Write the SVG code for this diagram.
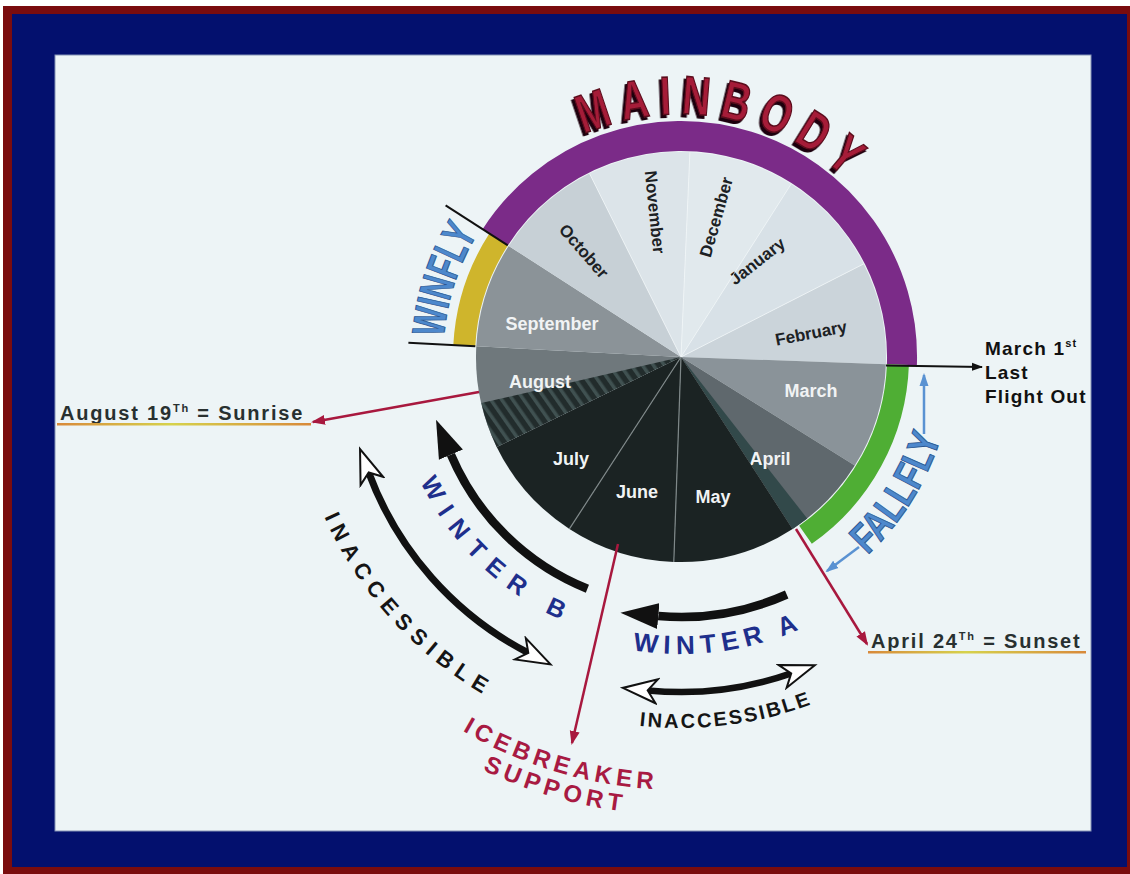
<svg xmlns="http://www.w3.org/2000/svg" width="1130" height="874" viewBox="0 0 1130 874">
<defs>
<style>
.lbl{font-family:"Liberation Sans",Arial,sans-serif;font-weight:bold;}
.mon{font-size:18px;text-anchor:middle;}
.rot{font-size:17px;text-anchor:middle;}
.mw{fill:#f1f3f4;}
.md{fill:#1c2124;}
.note{font-size:20px;fill:#283030;letter-spacing:1.8px;}
.flight{font-size:19px;fill:#111;letter-spacing:1.2px;}
.sup{font-size:11px;}
.blue{fill:#1e2f8c;}
.inac{fill:#151515;}
.red{fill:#a81a42;}
.fly{fill:#4d88cc;stroke:#2a5792;stroke-width:1;}
.sep{stroke:#f4f8fa;stroke-width:1;stroke-opacity:.7;}
.sepd{stroke:#7f8889;stroke-width:1.2;}
.rl{stroke:#a8183e;stroke-width:2.5;fill:none;}
.thick{stroke:#111;fill:none;}
</style>
<filter id="shadow" x="-10%" y="-20%" width="120%" height="140%"><feDropShadow dx="-2.5" dy="3" stdDeviation="0.4" flood-color="#1a0508" flood-opacity="1"/></filter>
<pattern id="hatch" patternUnits="userSpaceOnUse" width="9" height="9" patternTransform="rotate(-35)">
<rect width="9" height="9" fill="#222c2c"/><rect width="3.5" height="9" fill="#405151"/>
</pattern>
<linearGradient id="ul" x1="0" x2="1" y1="0" y2="0"><stop offset="0" stop-color="#d8893a"/><stop offset=".45" stop-color="#d6d24c"/><stop offset="1" stop-color="#d8893a"/></linearGradient>
<marker id="hFill" viewBox="0 -14 40 28" markerWidth="40" markerHeight="28" refX="0" refY="0" orient="auto-start-reverse" markerUnits="userSpaceOnUse"><path d="M0,-13 L38,0 L0,13 Z" fill="#111"/></marker>
<marker id="hOpen" viewBox="-2 -14 40 28" markerWidth="40" markerHeight="28" refX="9" refY="0" orient="auto-start-reverse" markerUnits="userSpaceOnUse"><path d="M0,-12 L34,0 L0,12 L9,0 Z" fill="#fff" stroke="#111" stroke-width="2"/></marker>
<marker id="aRed" viewBox="0 -6 14 12" markerWidth="14" markerHeight="12" refX="12" refY="0" orient="auto" markerUnits="userSpaceOnUse"><path d="M0,-5 L14,0 L0,5 Z" fill="#a8183e"/></marker>
<marker id="aBlk" viewBox="0 -5 11 10" markerWidth="11" markerHeight="10" refX="10" refY="0" orient="auto" markerUnits="userSpaceOnUse"><path d="M0,-4 L11,0 L0,4 Z" fill="#111"/></marker>
<marker id="aBlue" viewBox="0 -6 13 12" markerWidth="13" markerHeight="12" refX="11" refY="0" orient="auto" markerUnits="userSpaceOnUse"><path d="M0,-4.5 L13,0 L0,4.5 Z" fill="#5a92d2"/></marker>
<path id="pMain" d="M561.3,145.5 A243,243 0 0 1 868.5,202.4"/>
<path id="pWin" d="M443.1,365.3 A238,238 0 0 1 493.5,210.5"/>
<path id="pFall" d="M848.5,571.3 A272,272 0 0 0 947.0,413.5"/>
<path id="pWB" d="M404.1,439.6 A289,289 0 0 0 614.0,638.1"/>
<path id="pWA" d="M567.8,631.6 A297,297 0 0 0 862.2,592.3"/>
<path id="pInL" d="M299.0,440.3 A391,391 0 0 0 562.1,729.5"/>
<path id="pInR" d="M537.2,699.0 A371,371 0 0 0 905.3,652.5"/>
<path id="pIce" d="M365.9,654.0 A433,433 0 0 0 780.6,778.4"/>
<path id="pSup" d="M349.9,673.4 A458,458 0 0 0 789.5,802.0"/>
</defs>

<g id="frame">
<rect width="1130" height="874" fill="#ffffff"/>
<rect x="3" y="6" width="1127" height="868" fill="#7a0c0e"/>
<rect x="12" y="14" width="1115" height="853" fill="#03106e"/>
<rect x="55" y="55" width="1036" height="776" fill="#edf4f6" stroke="#8593b5" stroke-width="1"/>
</g>

<g id="pie">
<g id="m-feb"><path d="M681,357 L863.7,263.9 A205,205 0 0 1 885.9,364.2 Z" fill="#cbd4da"/><text class="lbl rot md" transform="translate(811,333) rotate(-11)" y="6">February</text></g>
<g id="m-mar"><path d="M681,357 L885.9,364.2 A205,205 0 0 1 854.8,465.6 Z" fill="#8a9399"/><text class="lbl mon mw" x="811" y="397">March</text></g>
<g id="m-apr"><path d="M681,357 L854.8,465.6 A205,205 0 0 1 792.6,528.9 Z" fill="#5f686d"/><path d="M681,357 L807.2,518.5 A205,205 0 0 1 792.6,528.9 Z" fill="#32494a"/><text class="lbl mon mw" x="770" y="465">April</text></g>
<g id="m-may"><path d="M681,357 L792.6,528.9 A205,205 0 0 1 673.8,561.9 Z" fill="#1b2323"/><text class="lbl mon mw" x="713" y="503">May</text></g>
<g id="m-jun"><path d="M681,357 L673.8,561.9 A205,205 0 0 1 569.4,528.9 Z" fill="#1b2323"/><text class="lbl mon mw" x="637" y="498">June</text></g>
<g id="m-jul"><path d="M681,357 L569.4,528.9 A205,205 0 0 1 496.7,446.9 Z" fill="#1b2323"/><text class="lbl mon mw" x="571" y="465">July</text></g>
<g id="m-aug"><path d="M681,357 L496.7,446.9 A205,205 0 0 1 476.3,346.3 Z" fill="#6f787c"/><path d="M681,357 L496.7,446.9 A205,205 0 0 1 481.3,403.1 Z" fill="url(#hatch)"/><text class="lbl mon mw" x="540" y="388">August</text></g>
<g id="m-sep"><path d="M681,357 L476.3,346.3 A205,205 0 0 1 508.7,245.9 Z" fill="#8b9398"/><text class="lbl mon mw" x="552" y="330">September</text></g>
<g id="m-oct"><path d="M681,357 L508.7,245.9 A205,205 0 0 1 589.5,173.5 Z" fill="#c7d0d6"/><text class="lbl rot md" transform="translate(584,251) rotate(49)" y="6">October</text></g>
<g id="m-nov"><path d="M681,357 L589.5,173.5 A205,205 0 0 1 689.9,152.2 Z" fill="#dce4e9"/><text class="lbl rot md" transform="translate(655,212) rotate(84)" y="6">November</text></g>
<g id="m-dec"><path d="M681,357 L689.9,152.2 A205,205 0 0 1 791.1,184.1 Z" fill="#e1e9ed"/><text class="lbl rot md" transform="translate(716,217) rotate(-74)" y="6">December</text></g>
<g id="m-jan"><path d="M681,357 L791.1,184.1 A205,205 0 0 1 863.7,263.9 Z" fill="#d8e1e7"/><text class="lbl rot md" transform="translate(757,261) rotate(-38)" y="6">January</text></g>
<g id="dividers">
<line class="sep" x1="681" y1="357" x2="589.5" y2="173.5"/>
<line class="sep" x1="681" y1="357" x2="689.9" y2="152.2"/>
<line class="sep" x1="681" y1="357" x2="791.1" y2="184.1"/>
<line class="sep" x1="681" y1="357" x2="863.7" y2="263.9"/>
<line class="sepd" x1="681" y1="357" x2="673.8" y2="561.9"/>
<line class="sepd" x1="681" y1="357" x2="569.4" y2="528.9"/>
</g>
</g>

<g id="ring-mainbody">
<path d="M495.2,237.3 A221,221 0 0 1 901.9,364.7" fill="none" stroke="#7b2b88" stroke-width="30"/>
<text class="lbl" style="font-size:54px" fill="#a51c38" stroke="#5a0c1c" stroke-width="1.5" text-anchor="middle" filter="url(#shadow)"><textPath href="#pMain" startOffset="50%" textLength="289" lengthAdjust="spacingAndGlyphs" letter-spacing="14">MAINBODY</textPath></text>
</g>

<g id="ring-winfly">
<path d="M464.3,345.6 A217,217 0 0 1 498.6,239.5" fill="none" stroke="#cfb52c" stroke-width="22"/>
<text class="lbl fly" style="font-size:46px" text-anchor="middle"><textPath href="#pWin" startOffset="50%" textLength="110" lengthAdjust="spacingAndGlyphs">WINFLY</textPath></text>
</g>

<g id="ring-fallfly">
<path d="M897.9,364.6 A217,217 0 0 1 805.5,534.8" fill="none" stroke="#4fae34" stroke-width="22"/>
<text class="lbl fly" style="font-size:42px" text-anchor="middle"><textPath href="#pFall" startOffset="50%" textLength="140" lengthAdjust="spacingAndGlyphs">FALLFLY</textPath></text>
</g>

<g id="connectors">
<line x1="445.6" y1="205.3" x2="507.8" y2="245.4" stroke="#111" stroke-width="2"/>
<line x1="408.4" y1="342.7" x2="475.3" y2="346.2" stroke="#111" stroke-width="2"/>
<path d="M886,365.5 L982,367" stroke="#111" stroke-width="2" fill="none" marker-end="url(#aBlk)"/>
<path d="M924,434 L924,375" stroke="#5a92d2" stroke-width="2.5" fill="none" marker-end="url(#aBlue)"/>
<path d="M859,547 L827,571" stroke="#5a92d2" stroke-width="2.5" fill="none" marker-end="url(#aBlue)"/>
<path class="rl" d="M479,392 L313,422" marker-end="url(#aRed)"/>
<path class="rl" d="M796,529 L867,644" marker-end="url(#aRed)"/>
<path class="rl" d="M618,544 L572,743" stroke-width="3" marker-end="url(#aRed)"/>
<path class="thick" d="M587.4,588.8 A250,250 0 0 1 450.9,454.7" stroke-width="8.5" marker-end="url(#hFill)"/>
<path class="thick" d="M786.7,594.5 A260,260 0 0 1 658.3,616.0" stroke-width="8.5" marker-end="url(#hFill)"/>
<path class="thick" d="M528.3,652.9 A333,333 0 0 1 368.7,472.5" stroke-width="7" marker-start="url(#hOpen)" marker-end="url(#hOpen)"/>
<path class="thick" d="M791.2,673.4 A335,335 0 0 1 647.7,690.4" stroke-width="6.5" marker-start="url(#hOpen)" marker-end="url(#hOpen)"/>
</g>

<g id="sunrise">
<text class="lbl note" x="60" y="420">August 19<tspan class="sup" dy="-8">Th</tspan><tspan dy="8"> = Sunrise</tspan></text>
<rect x="57" y="423" width="254" height="2.5" fill="url(#ul)"/>
</g>

<g id="sunset">
<text class="lbl note" x="871" y="648">April 24<tspan class="sup" dy="-8">Th</tspan><tspan dy="8"> = Sunset</tspan></text>
<rect x="868" y="651" width="218" height="2.5" fill="url(#ul)"/>
</g>

<g id="last-flight">
<text class="lbl flight" x="985" y="355">March 1<tspan class="sup" dy="-8">st</tspan></text>
<text class="lbl flight" x="985" y="379">Last</text>
<text class="lbl flight" x="985" y="403">Flight Out</text>
</g>

<g id="winter-b">
<text class="lbl blue" style="font-size:25px;letter-spacing:11px" text-anchor="middle"><textPath href="#pWB" startOffset="50%">WINTER B</textPath></text>
</g>
<g id="winter-a">
<text class="lbl blue" style="font-size:26px;letter-spacing:6px" text-anchor="middle"><textPath href="#pWA" startOffset="50%">WINTER A</textPath></text>
</g>
<g id="inaccessible-b">
<text class="lbl inac" style="font-size:22px;letter-spacing:7px" text-anchor="middle"><textPath href="#pInL" startOffset="50%">INACCESSIBLE</textPath></text>
</g>
<g id="inaccessible-a">
<text class="lbl inac" style="font-size:20px;letter-spacing:2.3px" text-anchor="middle"><textPath href="#pInR" startOffset="50%">INACCESSIBLE</textPath></text>
</g>
<g id="icebreaker">
<text class="lbl red" style="font-size:24px;letter-spacing:4.7px" text-anchor="middle"><textPath href="#pIce" startOffset="50%">ICEBREAKER</textPath></text>
<text class="lbl red" style="font-size:24px;letter-spacing:4.8px" text-anchor="middle"><textPath href="#pSup" startOffset="50%">SUPPORT</textPath></text>
</g>
</svg>
